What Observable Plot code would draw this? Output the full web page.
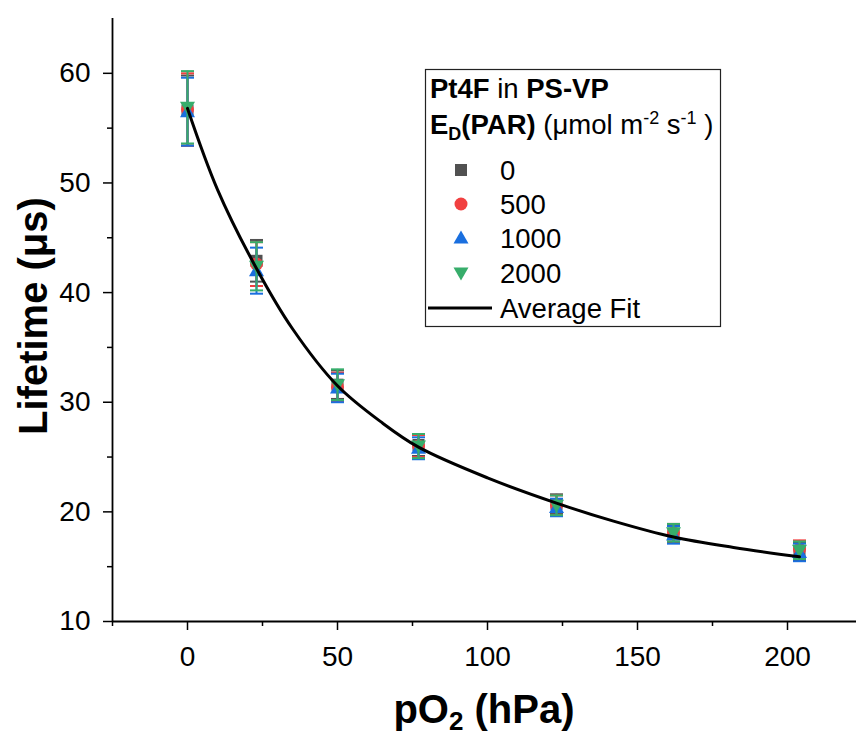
<!DOCTYPE html>
<html>
<head>
<meta charset="utf-8">
<script src="https://cdn.jsdelivr.net/npm/d3@7"></script>
<script src="https://cdn.jsdelivr.net/npm/@observablehq/plot@0.6"></script>
<style>
  html, body { margin: 0; padding: 0; background: #fff; }
  #chart { width: 856px; height: 736px; position: relative; }
</style>
</head>
<body>
<div id="chart"></div>
<script>
// ---- data ----
const pO2 = [0, 23, 50, 77, 123, 162, 204];
const seriesNames = ["0", "500", "1000", "2000"];
const colors = ["#515151", "#F14040", "#1A6FDF", "#37AD6B"];

const tau0    = [56.6, 42.9, 31.6, 26.1, 20.7, 18.0, 16.4];
const err0    = [3.2, 1.9, 1.3, 1.0, 0.9, 0.8, 0.8];
const tau500  = [56.7, 42.6, 31.4, 26.0, 20.6, 18.1, 16.6];
const err500  = [3.3, 2.0, 1.3, 1.0, 0.9, 0.8, 0.8];
const tau1000 = [56.5, 42.0, 31.3, 25.8, 20.4, 17.9, 16.3];
const err1000 = [3.1, 2.1, 1.3, 1.0, 0.8, 0.8, 0.8];
const tau2000 = [56.9, 42.4, 31.6, 26.0, 20.6, 18.1, 16.5];
const err2000 = [3.3, 2.2, 1.4, 1.1, 0.9, 0.8, 0.8];

// average fit curve
const fitP   = [0, 10, 23, 35, 50, 65, 77, 100, 123, 142, 162, 182, 204];
const fitTau = [56.8, 49.4, 42.2, 36.7, 31.5, 28.1, 25.9, 23.1, 20.8, 19.15, 17.7, 16.75, 15.9];

const yMajor = [10, 20, 30, 40, 50, 60];
const yMinor = [15, 25, 35, 45, 55];
const xMajor = [0, 50, 100, 150, 200];
const xMinor = [-25, 25, 75, 125, 175];

// ---- symbols ----
const symSquare = { draw(c) { c.rect(-6, -6, 12, 12); } };
const symCircle = { draw(c) { c.moveTo(6.5, 0); c.arc(0, 0, 6.5, 0, 2 * Math.PI); } };
const symUp     = { draw(c) { c.moveTo(-7.5, 5.5); c.lineTo(7.5, 5.5); c.lineTo(0, -7.5); c.closePath(); } };
const symDown   = { draw(c) { c.moveTo(-7.5, -5.5); c.lineTo(7.5, -5.5); c.lineTo(0, 7.5); c.closePath(); } };
const symCap    = { draw(c) { c.moveTo(-6.5, 0); c.lineTo(6.5, 0); } };
const symbols = [symSquare, symCircle, symUp, symDown];

const allTau = [tau0, tau500, tau1000, tau2000];
const allErr = [err0, err500, err1000, err2000];

const tables = seriesNames.map((s, i) => pO2.map((p, j) => ({
  p, tau: allTau[i][j], lo: allTau[i][j] - allErr[i][j], hi: allTau[i][j] + allErr[i][j], s
})));
const fitData = fitP.map((p, i) => ({ p, tau: fitTau[i] }));

const FONT = "'Liberation Sans', Arial, sans-serif";

const seriesMarks = [];
tables.forEach((t, i) => {
  const col = colors[i];
  seriesMarks.push(
    Plot.ruleX(t, { x: "p", y1: "lo", y2: "hi", stroke: col, strokeWidth: 2 }),
    Plot.dot(t, { x: "p", y: "hi", symbol: symCap, stroke: col, fill: "none", strokeWidth: 2 }),
    Plot.dot(t, { x: "p", y: "lo", symbol: symCap, stroke: col, fill: "none", strokeWidth: 2 }),
    Plot.dot(t, { x: "p", y: "tau", symbol: symbols[i], fill: col, stroke: "none" })
  );
});

const plot = Plot.plot({
  width: 856,
  height: 736,
  marginLeft: 112,
  marginRight: 0,
  marginTop: 18,
  marginBottom: 115,
  style: { fontFamily: FONT, fontSize: "27px", color: "#000", background: "#fff" },
  x: { domain: [-25, 223] },
  y: { domain: [10, 65] },
  marks: [
    ...seriesMarks,
    Plot.line(fitData, { x: "p", y: "tau", curve: "catmull-rom", stroke: "#000", strokeWidth: 3 }),
    Plot.axisY({ ticks: yMajor, tickSize: 9, tickPadding: 13, fontSize: 28, strokeWidth: 1.5, label: null, tickFormat: d => String(d) }),
    Plot.axisY({ ticks: yMinor, tickSize: 5, strokeWidth: 1.5, label: null, tickFormat: () => "" }),
    Plot.axisX({ ticks: xMajor, tickSize: 9, tickPadding: 16, fontSize: 28, strokeWidth: 1.5, label: null, tickFormat: d => String(d) }),
    Plot.axisX({ ticks: xMinor, tickSize: 5, strokeWidth: 1.5, label: null, tickFormat: () => "" }),
    Plot.ruleX([-25], { strokeWidth: 1.8 }),
    Plot.ruleY([10], { strokeWidth: 1.8 })
  ]
});

document.getElementById("chart").appendChild(plot);

// ---- axis titles & legend ----
const svg = d3.select(plot);

svg.append("text")
  .attr("transform", "translate(47,316) rotate(-90)")
  .attr("text-anchor", "middle")
  .attr("font-family", FONT).attr("font-size", 40).attr("font-weight", "bold").attr("fill", "#000")
  .text("Lifetime (μs)");

const xt = svg.append("text")
  .attr("x", 484).attr("y", 723)
  .attr("text-anchor", "middle")
  .attr("font-family", FONT).attr("font-size", 40).attr("font-weight", "bold").attr("fill", "#000");
xt.append("tspan").text("pO");
xt.append("tspan").attr("font-size", 26).attr("dy", 7).text("2");
xt.append("tspan").attr("dy", -7).text(" (hPa)");

const LFS = 27.5;
const lg = svg.append("g").attr("font-family", FONT).attr("fill", "#000").attr("text-anchor", "start");
const box = lg.append("rect").attr("x", 425.5).attr("y", 69.5).attr("height", 257)
  .attr("fill", "#fff").attr("stroke", "#222").attr("stroke-width", 1.2);

const l1 = lg.append("text").attr("x", 430).attr("y", 98).attr("font-size", LFS);
l1.append("tspan").attr("font-weight", "bold").text("Pt4F");
l1.append("tspan").text(" in ");
l1.append("tspan").attr("font-weight", "bold").text("PS-VP");

const l2 = lg.append("text").attr("x", 430).attr("y", 134).attr("font-size", LFS);
l2.append("tspan").attr("font-weight", "bold").text("E");
l2.append("tspan").attr("font-weight", "bold").attr("font-size", 18).attr("dy", 6).text("D");
l2.append("tspan").attr("font-weight", "bold").attr("dy", -6).text("(PAR)");
l2.append("tspan").text(" (μmol m");
l2.append("tspan").attr("font-size", 18).attr("dy", -10).text("-2");
l2.append("tspan").attr("dy", 10).text(" s");
l2.append("tspan").attr("font-size", 18).attr("dy", -10).text("-1");
l2.append("tspan").attr("dy", 10).text(" )");

const itemY = [170, 204, 238, 273];
const labelBase = [180, 214, 248, 283];
seriesNames.forEach((s, i) => {
  const p = d3.path();
  symbols[i].draw(p);
  lg.append("path").attr("d", p.toString()).attr("transform", `translate(461,${itemY[i]})`).attr("fill", colors[i]);
  lg.append("text").attr("x", 500).attr("y", labelBase[i]).attr("font-size", LFS).text(s);
});
lg.append("line").attr("x1", 428).attr("x2", 492).attr("y1", 308).attr("y2", 308)
  .attr("stroke", "#000").attr("stroke-width", 3);
lg.append("text").attr("x", 500).attr("y", 318).attr("font-size", LFS).text("Average Fit");

// size the frame to the widest legend line
const bb = lg.node().getBBox();
const textRight = Math.max(l1.node().getBBox().x + l1.node().getBBox().width, l2.node().getBBox().x + l2.node().getBBox().width);
box.attr("width", Math.ceil(textRight - 425.5 + 7));
</script>
</body>
</html>
